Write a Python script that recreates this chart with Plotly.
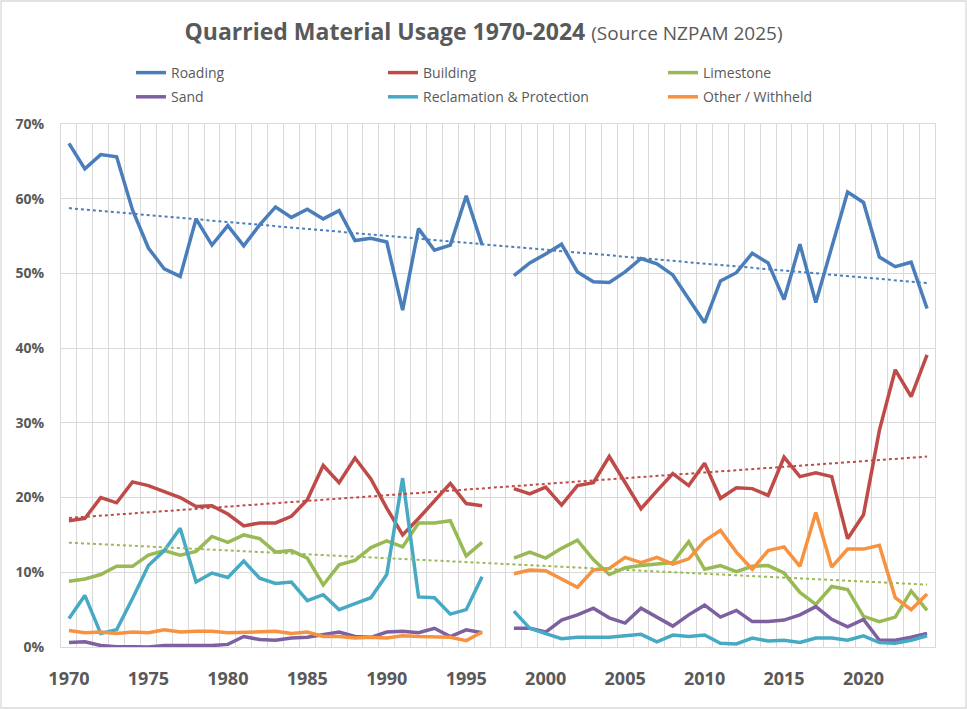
import numpy as np
import plotly.graph_objects as go

years = list(range(1970, 2025))

roading = [67.4, 64.0, 65.9, 65.6, 58.5, 53.4, 50.6, 49.6, 57.3, 53.8,
           56.4, 53.7, 56.5, 58.9, 57.5, 58.6, 57.3, 58.4, 54.4, 54.7,
           54.2, 45.1, 56.0, 53.1, 53.8, 60.4, 53.8, None, 49.7, 51.4,
           52.6, 53.9, 50.2, 48.9, 48.8, 50.2, 52.0, 51.3, 49.8, 46.6,
           43.4, 49.0, 50.1, 52.7, 51.4, 46.5, 53.9, 46.1, 53.6, 60.9,
           59.5, 52.2, 50.9, 51.5, 45.3]
building = [16.9, 17.2, 20.0, 19.3, 22.1, 21.6, 20.8, 20.0, 18.8, 18.9,
            17.8, 16.2, 16.6, 16.6, 17.5, 19.7, 24.3, 22.0, 25.3, 22.5,
            18.6, 15.0, 17.2, 19.5, 21.9, 19.2, 18.9, None, 21.2, 20.5,
            21.4, 19.0, 21.6, 22.0, 25.5, 22.1, 18.5, 20.9, 23.2, 21.6,
            24.6, 19.9, 21.3, 21.2, 20.3, 25.4, 22.8, 23.3, 22.8, 14.5,
            17.7, 29.0, 37.1, 33.5, 39.1]
limestone = [8.8, 9.1, 9.7, 10.8, 10.8, 12.3, 12.9, 12.3, 12.8, 14.8,
             14.0, 15.0, 14.5, 12.7, 12.9, 11.9, 8.3, 11.0, 11.6, 13.3,
             14.2, 13.4, 16.6, 16.6, 16.9, 12.2, 14.0, None, 11.9, 12.7,
             11.9, 13.2, 14.3, 11.7, 9.7, 10.6, 10.9, 11.1, 11.3, 14.1,
             10.4, 10.9, 10.1, 10.8, 10.9, 9.9, 7.3, 5.7, 8.1, 7.7,
             4.1, 3.4, 4.0, 7.5, 4.9]
sand = [0.6, 0.7, 0.2, 0.05, 0.05, 0.0, 0.2, 0.15, 0.2, 0.2,
        0.35, 1.4, 1.0, 0.9, 1.2, 1.3, 1.6, 2.0, 1.4, 1.3,
        2.0, 2.1, 1.9, 2.5, 1.4, 2.3, 1.9, None, 2.5, 2.5,
        2.0, 3.6, 4.3, 5.2, 3.9, 3.2, 5.2, 4.0, 2.8, 4.3,
        5.6, 4.0, 4.9, 3.4, 3.4, 3.6, 4.3, 5.4, 3.7, 2.7,
        3.7, 0.9, 0.9, 1.3, 1.8]
reclamation = [3.8, 6.9, 1.8, 2.3, 6.5, 10.9, 12.9, 15.9, 8.7, 9.9,
               9.3, 11.5, 9.2, 8.5, 8.7, 6.2, 7.0, 5.0, 5.8, 6.6,
               9.7, 22.6, 6.7, 6.6, 4.4, 5.0, 9.4, None, 4.8, 2.5,
               1.8, 1.1, 1.3, 1.3, 1.3, 1.5, 1.7, 0.7, 1.6, 1.4,
               1.6, 0.5, 0.4, 1.2, 0.8, 0.9, 0.6, 1.2, 1.2, 0.9,
               1.5, 0.6, 0.5, 0.9, 1.5]
other = [2.2, 1.9, 2.0, 1.8, 2.0, 1.9, 2.3, 2.0, 2.1, 2.1,
         1.9, 2.0, 2.0, 2.1, 1.8, 2.0, 1.4, 1.4, 1.2, 1.3,
         1.2, 1.5, 1.4, 1.3, 1.3, 0.85, 2.0, None, 9.8, 10.3,
         10.2, 9.1, 8.0, 10.3, 10.5, 12.0, 11.3, 12.0, 11.1, 11.8,
         14.2, 15.6, 12.7, 10.4, 12.9, 13.4, 10.8, 18.0, 10.7, 13.1,
         13.1, 13.6, 6.6, 5.0, 7.1]

names = ["Roading", "Building", "Limestone", "Sand",
         "Reclamation & Protection", "Other / Withheld"]
series = [roading, building, limestone, sand, reclamation, other]
colors = ["#4A7EBB", "#BE4B48", "#98B954", "#7D60A0", "#46AAC5", "#F69240"]
legend_ids = ["legend", "legend2", "legend3", "legend", "legend2", "legend3"]
trend_series = ["Roading", "Building", "Limestone"]

x_ticks = list(range(1970, 2021, 5))

TXT = "#595959"
GRID = "#D9D9D9"
FONT = "Open Sans"

fig = go.Figure()

for name, vals, col, lg in zip(names, series, colors, legend_ids):
    fig.add_trace(go.Scatter(
        x=years, y=vals, name=name, mode="lines",
        line=dict(color=col, width=3.5), connectgaps=False,
        legend=lg, legendgroup=name,
        hovertemplate="%{x}: %{y:.1f}%<extra>" + name + "</extra>"))

# linear trendlines fitted to the series
for name, vals, col in zip(names, series, colors):
    if name not in trend_series:
        continue
    xs = np.array([y for y, v in zip(years, vals) if v is not None], float)
    ys = np.array([v for v in vals if v is not None], float)
    k, b = np.polyfit(xs, ys, 1)
    xt = np.array([years[0], years[-1]], float)
    fig.add_trace(go.Scatter(
        x=xt, y=k * xt + b, mode="lines", showlegend=False,
        line=dict(color=col, width=2, dash="dot"), hoverinfo="skip"))

fig.update_layout(
    width=967, height=710,
    margin=dict(l=61, r=32, t=124, b=63),
    paper_bgcolor="white", plot_bgcolor="white",
    font=dict(family=FONT, color=TXT),
    title=dict(
        text="<b>Quarried Material Usage 1970-2024</b> "
             "<span style='font-size:19px'>(Source NZPAM 2025)</span>",
        x=0.5, xanchor="center", y=1 - 32 / 710, yanchor="middle",
        font=dict(family=FONT, size=23, color=TXT)),
    xaxis=dict(
        range=[1969.5, 2024.5], tickmode="array", tickvals=x_ticks,
        ticks="", showgrid=False, zeroline=False, automargin=False,
        showline=True, linecolor=GRID, linewidth=1.3, mirror=True,
        tickfont=dict(family=FONT, size=18, color=TXT, weight="bold"),
        ticklabelstandoff=15,
        minor=dict(tickmode="linear", tick0=1969.5, dtick=1, showgrid=True,
                   gridcolor=GRID, gridwidth=1.3, ticks="")),
    yaxis=dict(
        range=[0, 70], tickmode="linear", tick0=0, dtick=10, ticksuffix="%",
        showgrid=True, gridcolor=GRID, gridwidth=1.3, zeroline=False,
        showline=True, linecolor=GRID, linewidth=1.3, mirror=True,
        ticks="", ticklabelstandoff=13, automargin=False,
        tickfont=dict(family=FONT, size=14, color=TXT, weight="bold")),
    shapes=[dict(type="rect", xref="paper", yref="paper",
                 x0=(1 - 61) / 874, x1=(966 - 61) / 874,
                 y0=(647 - 708) / 523, y1=(647 - 1) / 523,
                 line=dict(color="#D9D9D9", width=1.3), layer="below")],
    hovermode="closest",
)

legend_common = dict(orientation="v", yanchor="top", xanchor="left",
                     y=(647 - 57) / 523, bgcolor="rgba(0,0,0,0)",
                     font=dict(family=FONT, size=14, color=TXT),
                     traceorder="grouped", tracegroupgap=3, itemwidth=30)
fig.update_layout(
    legend=dict(x=(131 - 61) / 874, **legend_common),
    legend2=dict(x=(383 - 61) / 874, **legend_common),
    legend3=dict(x=(663 - 61) / 874, **legend_common),
)

fig.write_html("out.html", config={"displayModeBar": False},
               post_script="document.body.style.margin='0';")
